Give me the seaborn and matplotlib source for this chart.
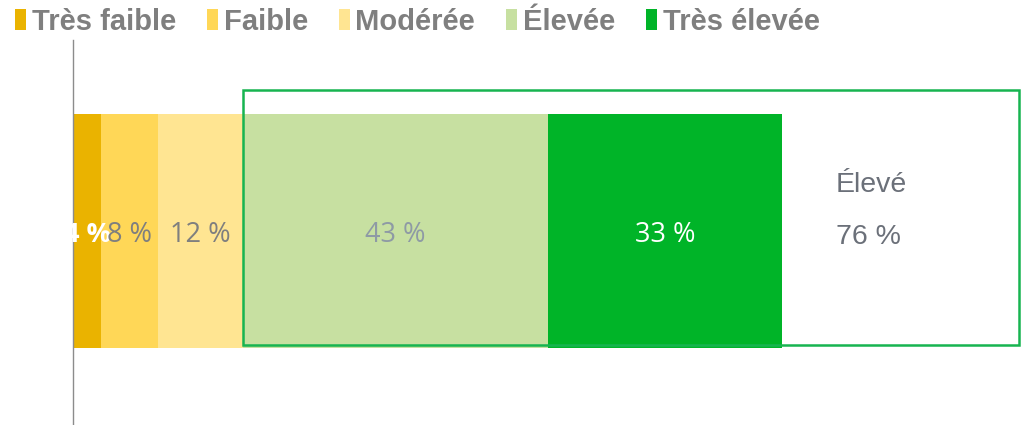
import numpy as np
import pandas as pd
import seaborn as sns
import matplotlib.pyplot as plt
from matplotlib.patches import Patch, Rectangle

# ---- data ----
categories = ["Très faible", "Faible", "Modérée", "Élevée", "Très élevée"]
values = [4, 8, 12, 43, 33]
colors = ["#EAB300", "#FFD757", "#FFE592", "#C7E0A1", "#00B428"]
label_colors = ["white", "#7F7F7F", "#7F7F7F", "#8E9AA5", "white"]
group_label = "Élevé"
group_value = 76

sns.set_theme(style="white")
plt.rcParams["font.family"] = ["Liberation Sans", "DejaVu Sans"]

fig = plt.figure(figsize=(10.23, 4.25), dpi=100)
ax = fig.add_axes([73 / 1023, 0, 950 / 1023, 385 / 425])

cum = np.cumsum(values)
starts = cum - np.array(values)

# stacked bar: draw cumulative totals from largest to smallest
for i in range(len(values) - 1, -1, -1):
    df = pd.DataFrame({"row": [""], "val": [cum[i]]})
    sns.barplot(data=df, x="val", y="row", orient="h", color=colors[i],
                saturation=1, width=0.61, ax=ax, linewidth=0)

ax.set_xlim(0, 134)
ax.set_ylim(0.504, -0.496)

for i, (v, s, c) in enumerate(zip(values, starts, label_colors)):
    ax.text(s + v / 2, 0.01, f"{v} %", ha="center", va="center",
            fontsize=19.5, color=c, fontfamily="Open Sans",
            fontweight="bold" if i == 0 else "normal")

# box around the "high" group
rect = Rectangle((starts[3], 0.208), 133.4 - starts[3], 0.662,
                 transform=ax.get_xaxis_transform(), fill=False,
                 edgecolor="#17B450", linewidth=1.8, zorder=5)
ax.add_patch(rect)
ax.text(107.6, 0.623, group_label, transform=ax.get_xaxis_transform(),
        ha="left", va="center", fontsize=20.5, color="#6B7079")
ax.text(107.6, 0.488, f"{group_value} %", transform=ax.get_xaxis_transform(),
        ha="left", va="center", fontsize=20.5, color="#6B7079")

for side in ["top", "right", "bottom"]:
    ax.spines[side].set_visible(False)
ax.spines["left"].set_color("#8C8C8C")
ax.spines["left"].set_linewidth(1)
ax.set_xticks([])
ax.set_yticks([])
ax.set_xlabel("")
ax.set_ylabel("")

handles = [Patch(facecolor=c, edgecolor="none") for c in colors]
leg = fig.legend(handles, categories, loc="upper left", bbox_to_anchor=(-0.011, 1.043),
                 ncol=5, frameon=False, handlelength=0.38, handleheight=0.72,
                 handletextpad=0.2, columnspacing=1.05,
                 prop={"family": "Liberation Sans", "weight": "bold", "size": 21})
for t in leg.get_texts():
    t.set_color("#7F7F7F")

fig.savefig("out.png", dpi=100)
